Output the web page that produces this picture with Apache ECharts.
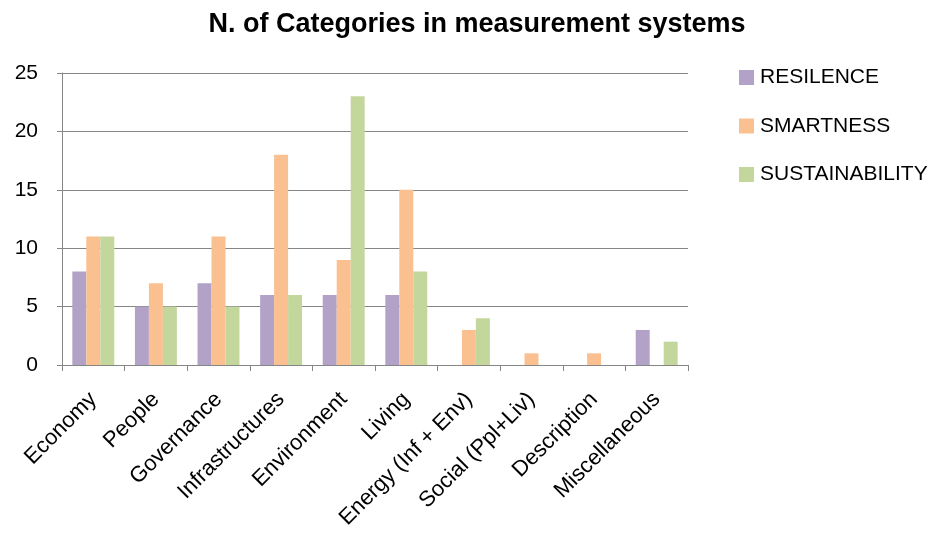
<!DOCTYPE html>
<html>
<head>
<meta charset="utf-8">
<script src="https://cdn.jsdelivr.net/npm/echarts@6/dist/echarts.min.js"></script>
<style>
html,body{margin:0;padding:0;background:#fff;}
#chart{width:933px;height:535px;}
</style>
</head>
<body>
<div id="chart"></div>
<script>
const categories = ["Economy","People","Governance","Infrastructures","Environment","Living","Energy (Inf + Env)","Social (Ppl+Liv)","Description","Miscellaneous"];
const resilence = [8,5,7,6,6,6,0,0,0,3];
const smartness = [11,7,11,18,9,15,3,1,1,0];
const sustainability = [11,5,5,6,23,8,4,0,0,2];
const yTicks = [0,5,10,15,20,25];

const FONT = "'Liberation Sans', 'DejaVu Sans', sans-serif";
const chart = echarts.init(document.getElementById('chart'), null, {renderer:'canvas'});
function mk(name, data, color){
  return {name, type:'bar', data: data.map(v => v === 0 ? null : v), itemStyle:{color}, barGap:'0%', barCategoryGap:'33%'};
}
chart.setOption({
  animation:false,
  backgroundColor:'#fff',
  textStyle:{fontFamily:FONT},
  title:{text:'N. of Categories in measurement systems', left:472, top:6, textAlign:'center',
    textStyle:{fontFamily:FONT, fontWeight:'bold', fontSize:27, color:'#000'}},
  legend:{orient:'vertical', left:734, top:62, itemWidth:15, itemHeight:15, itemGap:27.5, icon:'rect',
    textStyle:{fontFamily:FONT, fontSize:21, color:'#000', padding:[0,0,0,1]}},
  grid:{left:62, top:73, right:245, bottom:170, containLabel:false, outerBoundsMode:'none'},
  xAxis:{type:'category', data:categories,
    axisLine:{lineStyle:{color:'#868686'}},
    axisTick:{show:true, alignWithLabel:false, length:6, lineStyle:{color:'#868686'}},
    axisLabel:{rotate:45, interval:0, fontFamily:FONT, fontSize:22, color:'#000', margin:31}},
  yAxis:{type:'value', min:yTicks[0], max:yTicks[yTicks.length-1], interval:5,
    axisLine:{show:true, lineStyle:{color:'#868686'}},
    axisTick:{show:true, length:5, lineStyle:{color:'#868686'}},
    splitLine:{lineStyle:{color:'#868686'}},
    axisLabel:{fontFamily:FONT, fontSize:21, color:'#000', margin:24}},
  series:[
    mk('RESILENCE', resilence, '#B3A2C7'),
    mk('SMARTNESS', smartness, '#FAC090'),
    mk('SUSTAINABILITY', sustainability, '#C3D69B')
  ]
});
</script>
</body>
</html>
